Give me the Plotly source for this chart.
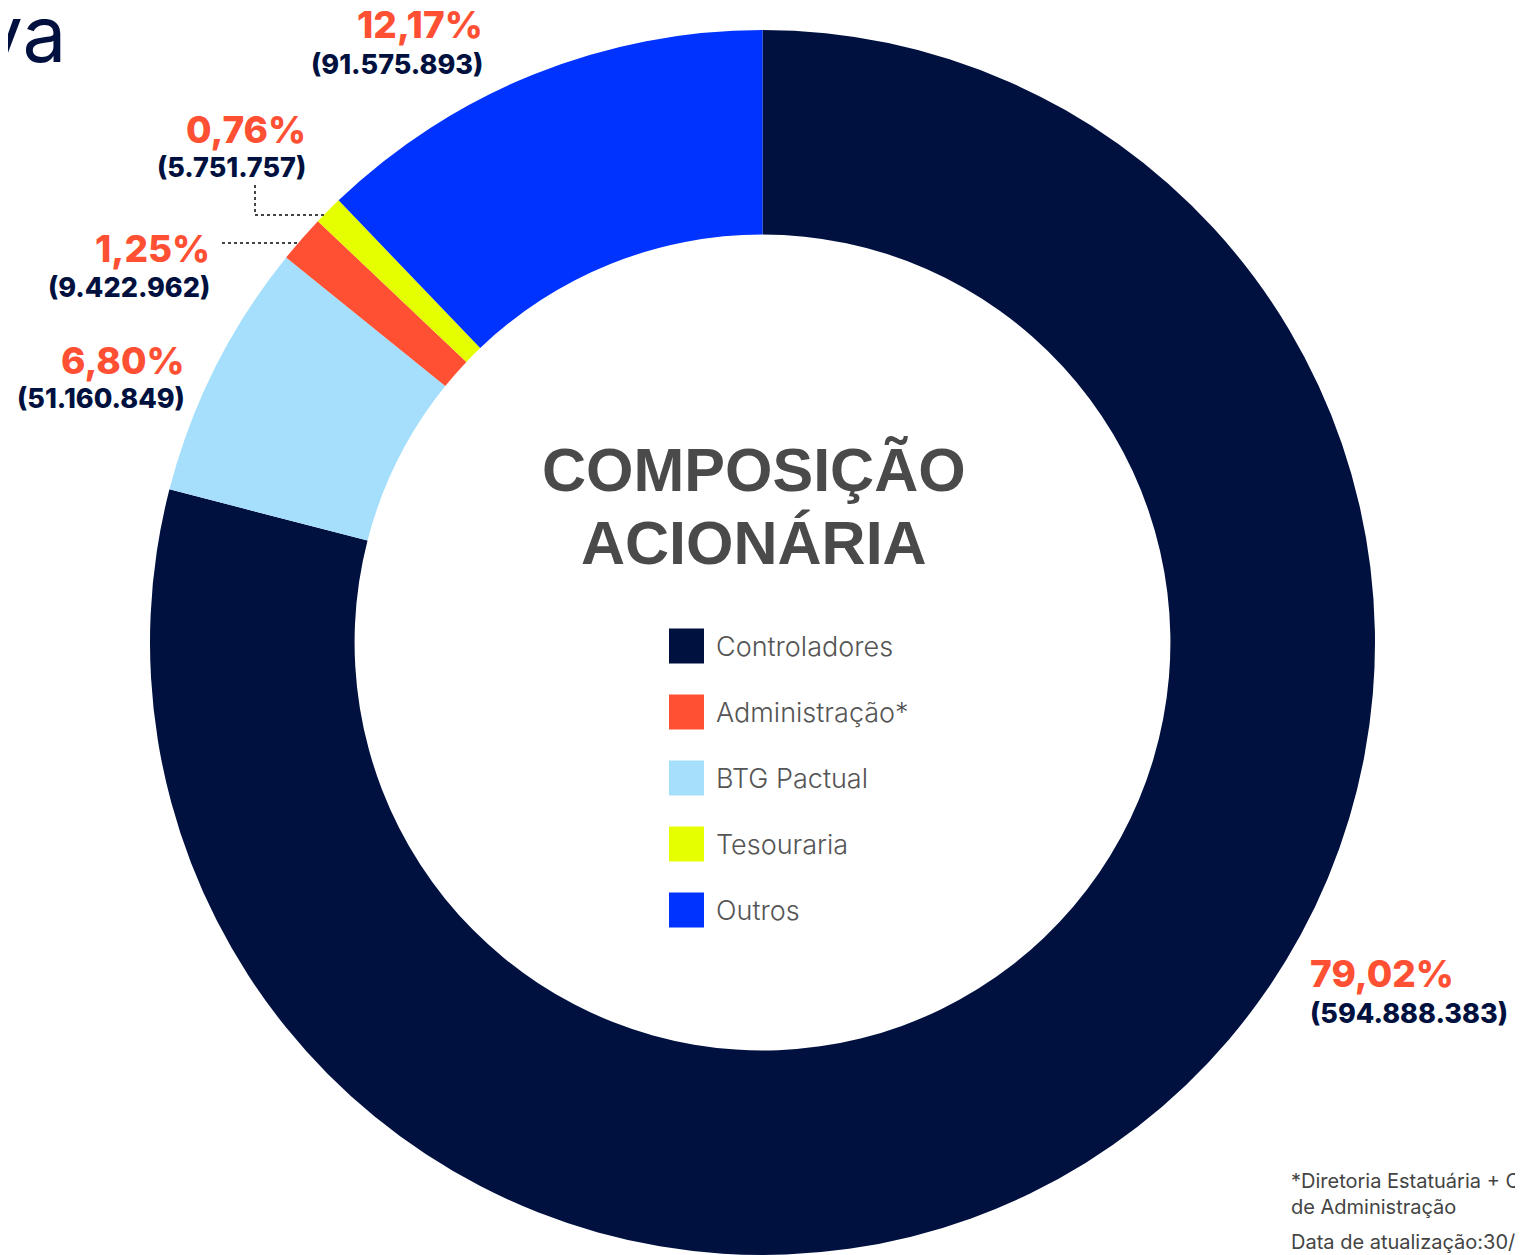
import plotly.graph_objects as go

OFF = 8  # default page body margin
W, H = 1523 - OFF, 1255 - OFF

# Data (clockwise order from 12 o'clock)
slice_labels = ["Controladores", "BTG Pactual", "Administração*", "Tesouraria", "Outros"]
slice_values = [594888383, 51160849, 9422962, 5751757, 91575893]
slice_pcts = ["79,02%", "6,80%", "1,25%", "0,76%", "12,17%"]
slice_counts = ["(594.888.383)", "(51.160.849)", "(9.422.962)", "(5.751.757)", "(91.575.893)"]
slice_colors = ["#001140", "#A6DFFC", "#FF5033", "#E6FF00", "#0033FF"]

legend_order = ["Controladores", "Administração*", "BTG Pactual", "Tesouraria", "Outros"]

NAVY = "#001140"
RED = "#FF5033"

def px(x):
    return (x - OFF) / W

def py(y):
    return 1 - (y - OFF) / H

fig = go.Figure()
fig.add_trace(go.Pie(
    labels=slice_labels,
    values=slice_values,
    marker=dict(colors=slice_colors, line=dict(width=0)),
    hole=0.666,
    sort=False,
    direction="clockwise",
    rotation=0,
    textinfo="none",
    hoverinfo="label+value+percent",
    showlegend=False,
    domain=dict(x=[px(150), px(1375)], y=[0, py(30)]),
))

ann = []
label_pos = {
    "Controladores": (1308, 973, 1013, "left"),
    "BTG Pactual": (187, 360, 398, "right"),
    "Administração*": (212, 248, 287, "right"),
    "Tesouraria": (308, 130, 167, "right"),
    "Outros": (485, 25, 64, "right"),
}
for lab, pct, cnt in zip(slice_labels, slice_pcts, slice_counts):
    x, ypct, ycnt, anc = label_pos[lab]
    ann.append(dict(x=px(x), y=py(ypct), xref="paper", yref="paper", text=pct,
                    showarrow=False, xanchor=anc, yanchor="middle",
                    font=dict(family="Inter", size=37, color=RED, weight=800)))
    ann.append(dict(x=px(x), y=py(ycnt), xref="paper", yref="paper", text=cnt,
                    showarrow=False, xanchor=anc, yanchor="middle",
                    font=dict(family="Inter", size=27, color=NAVY, weight=800)))

# center title
for t, yy in [("COMPOSIÇÃO", 470), ("ACIONÁRIA", 543)]:
    ann.append(dict(x=px(754), y=py(yy), xref="paper", yref="paper", text=t,
                    showarrow=False, xanchor="center", yanchor="middle",
                    font=dict(family="Liberation Sans", size=61, color="#4A4A4A", weight=700)))

shapes = []
color_of = dict(zip(slice_labels, slice_colors))
leg_y = [646, 712, 778, 844, 910]
for lab, yc in zip(legend_order, leg_y):
    shapes.append(dict(type="rect", xref="paper", yref="paper",
                       x0=px(669), x1=px(704), y0=py(yc - 17.5), y1=py(yc + 17.5),
                       fillcolor=color_of[lab], line=dict(width=0)))
    ann.append(dict(x=px(714), y=py(yc), xref="paper", yref="paper", text=lab,
                    showarrow=False, xanchor="left", yanchor="middle",
                    font=dict(family="Inter", size=27, color="#555555", weight=300)))

# leader lines (dotted)
dot = dict(color="#444444", width=2, dash="dot")
shapes.append(dict(type="line", xref="paper", yref="paper",
                   x0=px(255), y0=py(185), x1=px(255), y1=py(215), line=dot))
shapes.append(dict(type="line", xref="paper", yref="paper",
                   x0=px(255), y0=py(215), x1=px(326), y1=py(215), line=dot))
shapes.append(dict(type="line", xref="paper", yref="paper",
                   x0=px(222), y0=py(243), x1=px(297), y1=py(243), line=dot))

# page fragments
ann.append(dict(x=px(68), y=py(34), xref="paper", yref="paper", text="va",
                showarrow=False, xanchor="right", yanchor="middle",
                font=dict(family="Inter", size=78, color=NAVY, weight=400)))
foot = [("*Diretoria Estatuária + Co", 1181), ("de Administração", 1207),
        ("Data de atualização:30/1", 1242)]
for t, yy in foot:
    ann.append(dict(x=px(1289), y=py(yy), xref="paper", yref="paper", text=t,
                    showarrow=False, xanchor="left", yanchor="middle",
                    font=dict(family="Inter", size=20, color="#444444", weight=400)))

fig.update_layout(
    width=W, height=H,
    margin=dict(l=0, r=0, t=0, b=0),
    paper_bgcolor="white", plot_bgcolor="white",
    annotations=ann, shapes=shapes,
)

fig.write_html("out.html")
